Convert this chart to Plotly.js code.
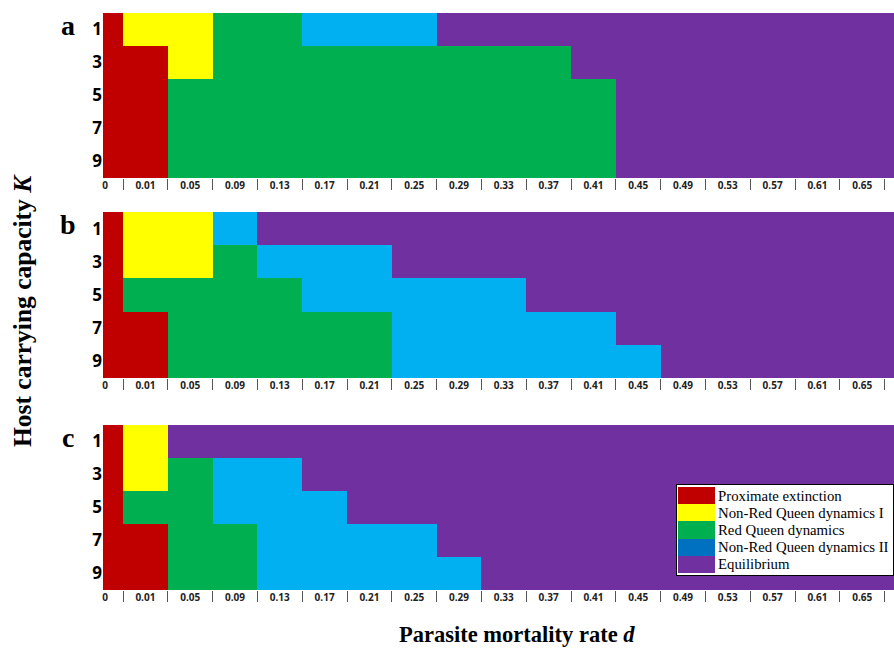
<!DOCTYPE html>
<html>
<head>
<meta charset="utf-8">
<script src="https://cdn.plot.ly/plotly-3.0.1.min.js"></script>
<style>html,body{margin:0;padding:0;background:#fff}#chart{width:894px;height:652px}</style>
</head>
<body>
<div id="chart"></div>
<script>
// ---- data ----
const dLabels = ['0','0.01','0.05','0.09','0.13','0.17','0.21','0.25','0.29','0.33','0.37','0.41','0.45','0.49','0.53','0.57','0.61','0.65','0.69'];
const kLabels = [1, 3, 5, 7, 9];
const regimes = ['Proximate extinction','Non-Red Queen dynamics I','Red Queen dynamics','Non-Red Queen dynamics II','Equilibrium'];
const regimeColors = ['#C00000','#FFFF00','#00B050','#00B0F0','#7030A0'];
const legendSwatchColors = ['#C00000','#FFFF00','#00B050','#0070C0','#7030A0'];
const panelLetters = ['a','b','c'];

// regime code per (K row, d column): 0 extinction, 1 NRQ I, 2 RQ, 3 NRQ II, 4 equilibrium
const panelA = [
  [0,1,1,2,2,3,3,3,4,4,4,4,4,4,4,4,4,4,4],
  [0,0,1,2,2,2,2,2,2,2,2,4,4,4,4,4,4,4,4],
  [0,0,2,2,2,2,2,2,2,2,2,2,4,4,4,4,4,4,4],
  [0,0,2,2,2,2,2,2,2,2,2,2,4,4,4,4,4,4,4],
  [0,0,2,2,2,2,2,2,2,2,2,2,4,4,4,4,4,4,4]
];
const panelB = [
  [0,1,1,3,4,4,4,4,4,4,4,4,4,4,4,4,4,4,4],
  [0,1,1,2,3,3,3,4,4,4,4,4,4,4,4,4,4,4,4],
  [0,2,2,2,2,3,3,3,3,3,4,4,4,4,4,4,4,4,4],
  [0,0,2,2,2,2,2,3,3,3,3,3,4,4,4,4,4,4,4],
  [0,0,2,2,2,2,2,3,3,3,3,3,3,4,4,4,4,4,4]
];
const panelC = [
  [0,1,4,4,4,4,4,4,4,4,4,4,4,4,4,4,4,4,4],
  [0,1,2,3,3,4,4,4,4,4,4,4,4,4,4,4,4,4,4],
  [0,2,2,3,3,3,4,4,4,4,4,4,4,4,4,4,4,4,4],
  [0,0,2,2,3,3,3,3,4,4,4,4,4,4,4,4,4,4,4],
  [0,0,2,2,3,3,3,3,3,4,4,4,4,4,4,4,4,4,4]
];
const panels = [panelA, panelB, panelC];

// ---- geometry (layout only) ----
const W = 894, H = 652;
const mL = 103, mR = 0, mT = 13, mB = 62;
const plotW = W - mL - mR, plotH = H - mT - mB;
const colPx = 44.8, firstColPx = 20;
const x0 = 0.5 - firstColPx / colPx;
const x1 = 0.5 + (W - mL - firstColPx) / colPx;
const colEdges = [x0];
for (let i = 0; i < dLabels.length; i++) colEdges.push(i + 0.5);
const tickPos = dLabels.map((_, i) => i === 0 ? x0 + 2 / colPx : i);
const sepPos = dLabels.slice(1).map((_, i) => i + 0.5);

const pyToPaper = p => (H - mB - p) / plotH;
const pxToPaper = p => (p - mL) / plotW;
const panelPx = [[13, 178], [212, 378], [425, 590]];

function scale(colors) {
  return colors.map((c, i) => [i / (colors.length - 1), c]);
}

const traces = [];
const layout = {
  width: W, height: H,
  margin: {l: mL, r: mR, t: mT, b: mB, pad: 0},
  paper_bgcolor: '#fff', plot_bgcolor: '#fff',
  showlegend: false,
  font: {family: 'Open Sans, sans-serif', color: '#000'},
  annotations: [], shapes: []
};

panels.forEach((z, p) => {
  const n = p === 0 ? '' : String(p + 1);
  traces.push({
    type: 'heatmap',
    z: z,
    x: colEdges,
    y: kLabels,
    zmin: 0, zmax: regimes.length - 1,
    colorscale: scale(regimeColors),
    showscale: false,
    xaxis: 'x' + n, yaxis: 'y' + n,
    customdata: z.map(r => r.map(v => regimes[v])),
    hovertemplate: 'd=%{x}<br>K=%{y}<br>%{customdata}<extra></extra>'
  });
  layout['xaxis' + n] = {
    domain: [0, 1],
    anchor: 'y' + n,
    range: [x0, x1],
    showgrid: false, zeroline: false, showline: false,
    tickmode: 'array', tickvals: tickPos, ticktext: dLabels,
    ticks: '',
    tickfont: {family: 'Open Sans, sans-serif', size: 10, weight: 'bold', color: '#222'},
    minor: {tickmode: 'array', tickvals: sepPos, ticks: 'outside', ticklen: 11, tickwidth: 1, tickcolor: '#555', showgrid: false}
  };
  layout['yaxis' + n] = {
    domain: [pyToPaper(panelPx[p][1]), pyToPaper(panelPx[p][0])],
    anchor: 'x' + n,
    range: [10, 0],
    showgrid: false, zeroline: false, showline: false,
    tickmode: 'array', tickvals: kLabels, ticktext: kLabels.map(String),
    ticks: '',
    tickfont: {family: 'Open Sans, sans-serif', size: 17, weight: 'bold', color: '#000'}
  };
  layout.annotations.push({
    xref: 'paper', yref: 'paper',
    x: pxToPaper(68), y: pyToPaper(panelPx[p][0] + 12),
    xanchor: 'center', yanchor: 'middle',
    text: '<b>' + panelLetters[p] + '</b>', showarrow: false,
    font: {family: 'Liberation Serif, Times New Roman, serif', size: 28, color: '#000'}
  });
});

// ---- legend box as a small subplot ----
const legL = 677, legR = 893, legT = 485, legB = 575;
const legW = legR - legL, legHt = legB - legT;
const rowH = (legHt - 4) / regimes.length;
const legYEdges = regimes.map((_, i) => 2 + i * rowH).concat([2 + regimes.length * rowH]);
traces.push({
  type: 'heatmap',
  z: regimes.map((_, i) => [i]),
  x: [1, 38],
  y: legYEdges,
  zmin: 0, zmax: regimes.length - 1,
  colorscale: scale(legendSwatchColors),
  showscale: false,
  xaxis: 'x4', yaxis: 'y4',
  hoverinfo: 'skip'
});
layout.xaxis4 = {
  domain: [pxToPaper(legL), pxToPaper(legR)], anchor: 'y4',
  range: [0, legW], showgrid: false, zeroline: false, showticklabels: false, ticks: '',
  showline: true, mirror: true, linecolor: '#000', linewidth: 1, fixedrange: true
};
layout.yaxis4 = {
  domain: [pyToPaper(legB), pyToPaper(legT)], anchor: 'x4',
  range: [legHt, 0], showgrid: false, zeroline: false, showticklabels: false, ticks: '',
  showline: true, mirror: true, linecolor: '#000', linewidth: 1, fixedrange: true
};
regimes.forEach((r, i) => {
  layout.annotations.push({
    xref: 'x4', yref: 'y4', x: 39, y: 2 + (i + 0.5) * rowH,
    xanchor: 'left', yanchor: 'middle', text: r, showarrow: false,
    font: {family: 'Liberation Serif, Times New Roman, serif', size: 14.8, color: '#000'}
  });
});

// ---- axis titles ----
layout.annotations.push({
  xref: 'paper', yref: 'paper', x: pxToPaper(22), y: pyToPaper(311),
  xanchor: 'center', yanchor: 'middle', textangle: -90, showarrow: false,
  text: '<b>Host carrying capacity <i>K</i></b>',
  font: {family: 'Liberation Serif, Times New Roman, serif', size: 25.5, color: '#000'}
});
layout.annotations.push({
  xref: 'paper', yref: 'paper', x: pxToPaper(517), y: pyToPaper(634),
  xanchor: 'center', yanchor: 'middle', showarrow: false,
  text: '<b>Parasite mortality rate <i>d</i></b>',
  font: {family: 'Liberation Serif, Times New Roman, serif', size: 22.5, color: '#000'}
});

Plotly.newPlot('chart', traces, layout, {displayModeBar: false, responsive: false});
</script>
</body>
</html>
